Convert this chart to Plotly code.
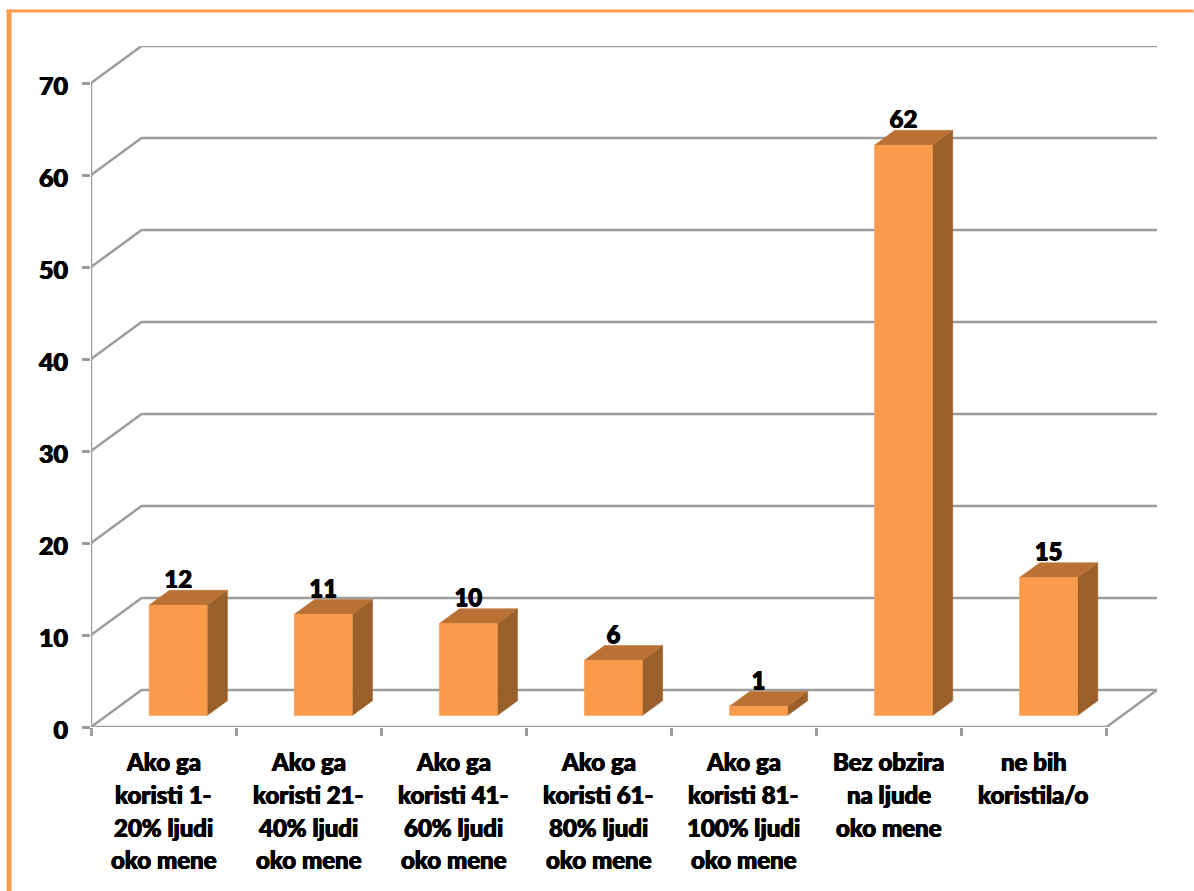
import plotly.graph_objects as go

categories = [
    ["Ako ga", "koristi 1-", "20% ljudi", "oko mene"],
    ["Ako ga", "koristi 21-", "40% ljudi", "oko mene"],
    ["Ako ga", "koristi 41-", "60% ljudi", "oko mene"],
    ["Ako ga", "koristi 61-", "80% ljudi", "oko mene"],
    ["Ako ga", "koristi 81-", "100% ljudi", "oko mene"],
    ["Bez obzira", "na ljude", "oko mene"],
    ["ne bih", "koristila/o"],
]
values = [12, 11, 10, 6, 1, 62, 15]
y_ticks = [0, 10, 20, 30, 40, 50, 60, 70]

W, H = 1194, 891
L, R, T, B = 90.5, 1157.3, 45.5, 727.0
CAT_PX = (1106.7 - L) / 7
UNIT_PX = (B - 84.5) / 70
DX = (R - 1106.7) / CAT_PX        # wall depth in category units
DY = (B - 690.0) / UNIT_PX        # wall depth in value units
FRONT, BACK = 0.31, 0.71          # bar depth as share of the floor depth
FRONT_X = 0.29
HALF = 0.2

GREY = "#9c9c9c"
FACE, TOP, SIDE = "#fa9a4b", "#b97134", "#9b5f2b"
FONT = "Lato"
WEIGHT = 900
SHADOW = "0.5px 0 0 #000, -0.5px 0 0 #000, 0 0.4px 0 #000"

fig = go.Figure()

def line(xs, ys, width=2.5, color=GREY):
    fig.add_trace(go.Scatter(x=xs, y=ys, mode="lines", line=dict(color=color, width=width),
                             hoverinfo="skip", showlegend=False, cliponaxis=False))

def poly(xs, ys, color):
    fig.add_trace(go.Scatter(x=xs + xs[:1], y=ys + ys[:1], mode="lines", fill="toself", fillcolor=color,
                             line=dict(color=color, width=0.5), hoverinfo="skip",
                             showlegend=False, cliponaxis=False))

x0, x1 = -0.5, 6.5
for t in y_ticks:
    line([x0, x0 + DX, x1 + DX], [t, t + DY, t + DY])
line([x1, x1 + DX], [0, DY])
line([x0, x1], [0, 0])
line([x0, x0], [0, y_ticks[-1]])

for i, v in enumerate(values):
    l = i - HALF + FRONT_X * DX
    r = i + HALF + FRONT_X * DX
    b = FRONT * DY
    tp = b + v
    ddx = (BACK - FRONT) * DX
    ddy = (BACK - FRONT) * DY
    poly([r, r + ddx, r + ddx, r], [b, b + ddy, tp + ddy, tp], SIDE)
    poly([l, r, r + ddx, l + ddx], [tp, tp, tp + ddy, tp + ddy], TOP)
    poly([l, r, r, l], [b, b, tp, tp], FACE)

fig.add_trace(go.Scatter(
    x=[i + FRONT_X * DX for i in range(len(values))],
    y=[FRONT * DY + v + (BACK - FRONT) * DY + 0.9 for v in values],
    text=[str(v) for v in values], mode="text", textposition="middle center",
    textfont=dict(family=FONT, size=24, color="#000000", weight=WEIGHT, shadow=SHADOW),
    hoverinfo="skip", showlegend=False, cliponaxis=False))

annotations = []
for i, lines in enumerate(categories):
    for k, txt in enumerate(lines):
        annotations.append(dict(
            x=i, xref="x", y=(B - 762 - 32.6 * k) / (B - T), yref="paper",
            text=txt, showarrow=False, xanchor="center", yanchor="middle",
            font=dict(family=FONT, size=24, color="#000000", weight=WEIGHT, shadow=SHADOW)))

fig.update_layout(
    width=W, height=H, margin=dict(l=L, r=W - R, t=T, b=H - B, autoexpand=False),
    paper_bgcolor="#ffffff", plot_bgcolor="rgba(0,0,0,0)", showlegend=False,
    xaxis=dict(range=[x0, x1 + DX], showgrid=False, zeroline=False, showline=False,
               tickvals=[i - 0.5 for i in range(8)], ticktext=[""] * 8,
               ticks="outside", ticklen=8, tickwidth=2.5, tickcolor=GREY),
    yaxis=dict(range=[0, y_ticks[-1] + DY], showgrid=False, zeroline=False, showline=False,
               tickvals=y_ticks, ticks="outside", ticklen=8, tickwidth=2.5, tickcolor=GREY,
               ticklabelstandoff=9, ticklabelshift=3,
               tickfont=dict(family=FONT, size=25, color="#000000", weight=WEIGHT, shadow=SHADOW)),
    annotations=annotations,
    shapes=[
        dict(type="rect", xref="paper", yref="paper", layer="above",
             x0=(6 - L) / (R - L), x1=(W - L) / (R - L),
             y0=(B - 12) / (B - T), y1=(B - 9) / (B - T),
             fillcolor=FACE, line=dict(width=0)),
        dict(type="rect", xref="paper", yref="paper", layer="above",
             x0=(6 - L) / (R - L), x1=(11 - L) / (R - L),
             y0=(B - H) / (B - T), y1=(B - 9) / (B - T),
             fillcolor=FACE, line=dict(width=0)),
    ],
)

fig.write_html("out.html", config=dict(displayModeBar=False),
               post_script="document.body.style.margin='0';document.documentElement.style.overflow='hidden';")
